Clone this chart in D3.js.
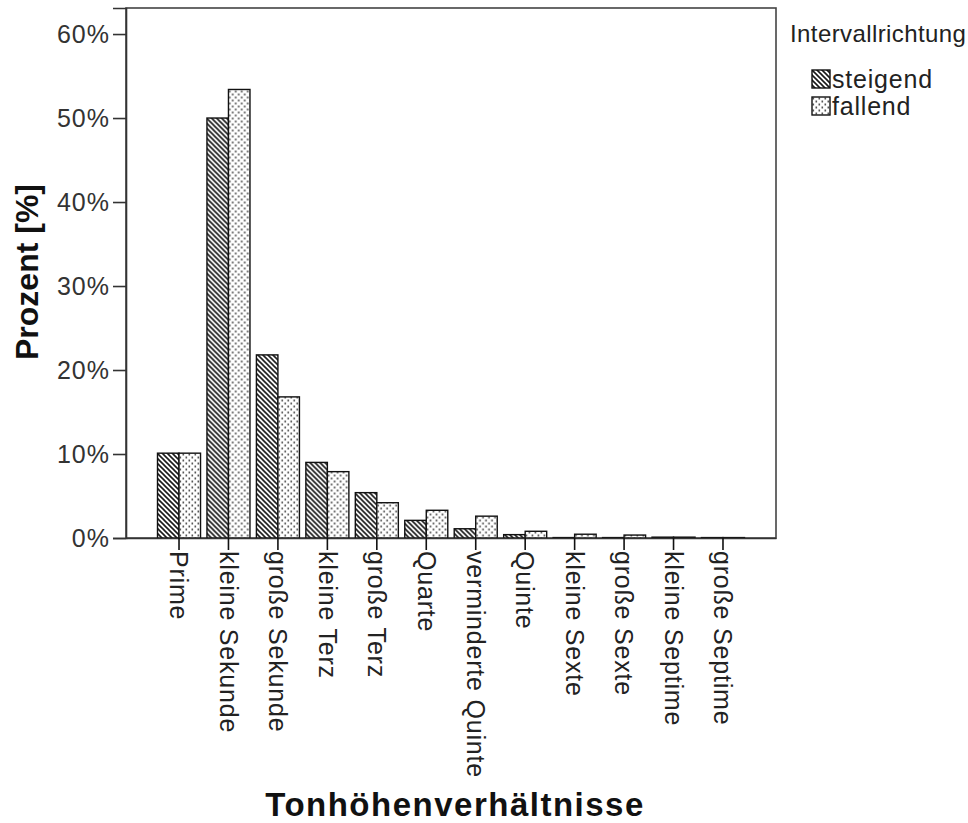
<!DOCTYPE html>
<html>
<head>
<meta charset="utf-8">
<script src="https://cdn.jsdelivr.net/npm/d3@7"></script>
<style>
  html, body { margin: 0; padding: 0; background: #fff; }
  svg { display: block; font-family: "Liberation Sans", Arial, sans-serif; }
</style>
</head>
<body>
<svg id="chart" width="968" height="823"></svg>
<script>
// Intervals (pitch relations) on the x axis
const categories = [
  "Prime", "kleine Sekunde", "große Sekunde", "kleine Terz", "große Terz",
  "Quarte", "verminderte Quinte", "Quinte", "kleine Sexte", "große Sexte",
  "kleine Septime", "große Septime"
];
// Percentages per interval direction
const steigend = [10.1, 50.0, 21.8, 9.0, 5.4, 2.1, 1.1, 0.4, 0.05, 0.05, 0.1, 0.05];
const fallend  = [10.1, 53.4, 16.8, 7.9, 4.2, 3.3, 2.6, 0.8, 0.45, 0.35, 0.1, 0.05];
const seriesNames = ["steigend", "fallend"];
const yTicks = [0, 10, 20, 30, 40, 50, 60];

const svg = d3.select("#chart");
const plot = { left: 126, right: 776, top: 8, bottom: 538 };

const x = d3.scaleBand()
  .domain(categories)
  .range([plot.left, plot.right])
  .paddingInner(0)
  .paddingOuter(0.572);

const groupWidth = x.bandwidth() * 0.87;
const xSub = d3.scaleBand()
  .domain(seriesNames)
  .range([-groupWidth / 2, groupWidth / 2]);

const y = d3.scaleLinear()
  .domain([0, 63.1])
  .range([plot.bottom, plot.top]);

// Fill patterns: diagonal hatch for "steigend", dot screen for "fallend"
const defs = svg.append("defs");
const hatch = defs.append("pattern")
  .attr("id", "hatch").attr("patternUnits", "userSpaceOnUse")
  .attr("width", 5).attr("height", 5);
hatch.append("rect").attr("width", 5).attr("height", 5).attr("fill", "#fff");
hatch.append("path")
  .attr("d", "M-1,-1 L6,6 M-1,4 L1,6 M4,-1 L6,1")
  .attr("stroke", "#1a1a1a").attr("stroke-width", 1.6);

const dots = defs.append("pattern")
  .attr("id", "dots").attr("patternUnits", "userSpaceOnUse")
  .attr("width", 6).attr("height", 6);
dots.append("rect").attr("width", 6).attr("height", 6).attr("fill", "#fff");
dots.append("rect").attr("x", 0.5).attr("y", 0.5).attr("width", 1.6).attr("height", 2).attr("fill", "#555");
dots.append("rect").attr("x", 3.5).attr("y", 3.5).attr("width", 1.6).attr("height", 2).attr("fill", "#555");

const fills = { steigend: "url(#hatch)", fallend: "url(#dots)" };
const values = { steigend, fallend };

// Plot frame
svg.append("rect")
  .attr("x", plot.left).attr("y", plot.top)
  .attr("width", plot.right - plot.left).attr("height", plot.bottom - plot.top)
  .attr("fill", "none").attr("stroke", "#444").attr("stroke-width", 1.6);

// Bars
const groups = svg.append("g").selectAll("g")
  .data(categories)
  .join("g")
  .attr("transform", d => `translate(${x(d) + x.bandwidth() / 2},0)`);

groups.selectAll("rect")
  .data((d, i) => seriesNames.map(s => ({ s, v: values[s][i] })))
  .join("rect")
  .attr("x", d => xSub(d.s))
  .attr("width", xSub.bandwidth())
  .attr("y", d => y(d.v))
  .attr("height", d => y(0) - y(d.v))
  .attr("fill", d => fills[d.s])
  .attr("stroke", "#111")
  .attr("stroke-width", 1.4);

// Y axis
const yAxis = svg.append("g")
  .attr("transform", `translate(${plot.left},0)`)
  .call(d3.axisLeft(y).tickValues(yTicks).tickFormat(d => d + "%").tickSize(13).tickPadding(3));
yAxis.select(".domain").attr("stroke", "#333").attr("stroke-width", 1.6);
yAxis.selectAll(".tick line").attr("stroke", "#333").attr("stroke-width", 1.6);
yAxis.selectAll(".tick text")
  .attr("font-size", 25).attr("fill", "#333").attr("letter-spacing", 1)
  .attr("font-family", "Liberation Sans, Arial, sans-serif");

// X axis
const xAxis = svg.append("g")
  .attr("transform", `translate(0,${plot.bottom})`)
  .call(d3.axisBottom(x).tickSize(12).tickSizeOuter(0));
xAxis.select(".domain").attr("stroke", "#333").attr("stroke-width", 1.6);
xAxis.selectAll(".tick line").attr("stroke", "#111").attr("stroke-width", 1.6);
xAxis.selectAll(".tick text")
  .attr("font-size", 25).attr("fill", "#222").attr("letter-spacing", 0.8)
  .attr("font-family", "Liberation Sans, Arial, sans-serif")
  .attr("transform", "rotate(90)")
  .attr("x", 13).attr("y", 0).attr("dy", "0.35em")
  .attr("text-anchor", "start");

// Axis titles
svg.append("text")
  .attr("transform", `translate(38,${(plot.top + plot.bottom) / 2 - 1}) rotate(-90)`)
  .attr("text-anchor", "middle")
  .attr("font-size", 32).attr("font-weight", "bold").attr("fill", "#111")
  .text("Prozent [%]");

svg.append("text")
  .attr("x", (plot.left + plot.right) / 2 + 4).attr("y", 816)
  .attr("text-anchor", "middle")
  .attr("font-size", 33).attr("font-weight", "bold").attr("fill", "#111")
  .attr("letter-spacing", 1.5)
  .text("Tonhöhenverhältnisse");

// Legend
const legend = svg.append("g");
legend.append("text")
  .attr("x", 790).attr("y", 42)
  .attr("font-size", 24).attr("fill", "#222").attr("letter-spacing", 0.4)
  .text("Intervallrichtung");
const items = legend.selectAll("g.item")
  .data(seriesNames)
  .join("g")
  .attr("class", "item")
  .attr("transform", (d, i) => `translate(812,${70 + i * 27})`);
items.append("rect")
  .attr("width", 18).attr("height", 18)
  .attr("fill", d => fills[d])
  .attr("stroke", "#111").attr("stroke-width", 1.4);
items.append("text")
  .attr("x", 20).attr("y", 9).attr("dy", "0.35em")
  .attr("font-size", 25).attr("fill", "#222").attr("letter-spacing", 0.8)
  .text(d => d);
</script>
</body>
</html>
